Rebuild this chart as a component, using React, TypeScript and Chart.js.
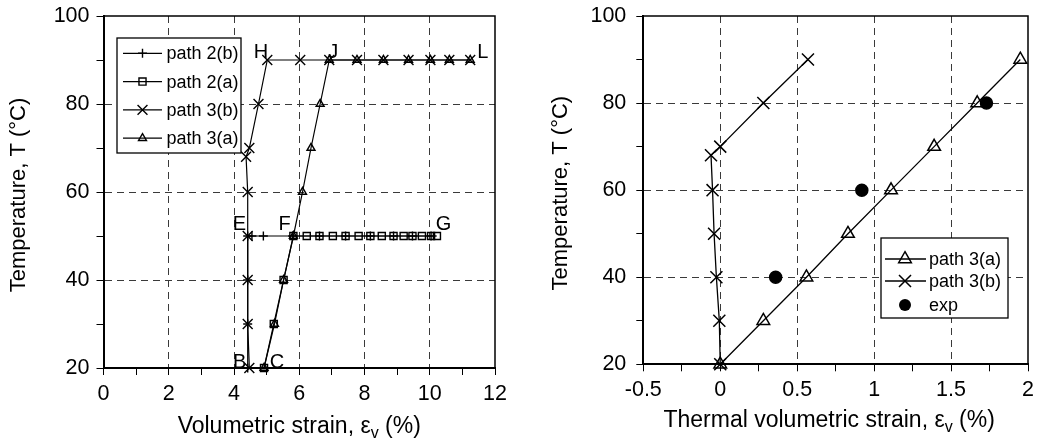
import React, { useEffect, useRef } from "react";
import { Chart, registerables } from "chart.js";
Chart.register(...registerables);

const FONT = "'Liberation Sans', Arial, Helvetica, sans-serif";

// ---------- Left panel data (volumetric strain %, temperature °C) ----------
const path2bX = [0, 4.42, 4.42, 4.42, 4.42, 4.55, 4.9, 5.8, 6.62, 7.42, 8.18, 8.89, 9.47, 10.04];
const path2bY = [20, 20, 30, 40, 50, 50, 50, 50, 50, 50, 50, 50, 50, 50];
const path2aX = [4.92, 5.22, 5.52, 5.82, 6.23, 6.62, 7.03, 7.42, 7.82, 8.18, 8.53, 8.89, 9.2, 9.47, 9.76, 10.04, 10.22];
const path2aY = [20, 30, 40, 50, 50, 50, 50, 50, 50, 50, 50, 50, 50, 50, 50, 50, 50];
const path3bX = [4.47, 4.42, 4.42, 4.42, 4.42, 4.37, 4.47, 4.75, 5.02, 6.03, 6.92, 7.77, 8.58, 9.35, 10.02, 10.6, 11.24];
const path3bY = [20, 30, 40, 50, 60, 68, 70, 80, 90, 90, 90, 90, 90, 90, 90, 90, 90];
const path3aX = [4.92, 5.24, 5.52, 5.82, 6.1, 6.36, 6.64, 6.92, 7.77, 8.58, 9.35, 10.02, 10.6, 11.24];
const path3aY = [20, 30, 40, 50, 60, 70, 80, 90, 90, 90, 90, 90, 90, 90];
const leftLetters = ["B", "C", "E", "F", "G", "H", "J", "L"];
const leftLetterX = [4.42, 4.92, 4.42, 5.82, 10.22, 5.02, 6.92, 11.24];
const leftLetterY = [20, 20, 50, 50, 50, 90, 90, 90];
const leftLabels = ["path 2(b)", "path 2(a)", "path 3(b)", "path 3(a)"];

// ---------- Right panel data (thermal volumetric strain %, temperature °C) ----------
const r3aX = [0, 0.28, 0.56, 0.83, 1.11, 1.39, 1.67, 1.95];
const r3aY = [20, 30, 40, 50, 60, 70, 80, 90];
const r3bX = [0, -0.006, -0.025, -0.04, -0.05, -0.06, 0, 0.28, 0.57];
const r3bY = [20, 30, 40, 50, 60, 68, 70, 80, 90];
const expX = [0.36, 0.92, 1.73];
const expY = [40, 60, 80];
const rightLabels = ["path 3(a)", "path 3(b)", "exp"];

const toPts = (xs: number[], ys: number[]) => xs.map((x, i) => ({ x, y: ys[i] }));

function isMajor(v: number, major: number) {
  const r = v / major;
  return Math.abs(r - Math.round(r)) < 1e-6;
}
const fmt = (v: number) => String(Math.round(v * 100) / 100);

function drawMarker(ctx: CanvasRenderingContext2D, style: string, x: number, y: number, r: number) {
  ctx.beginPath();
  if (style === "cross") {
    ctx.moveTo(x - r, y); ctx.lineTo(x + r, y); ctx.moveTo(x, y - r); ctx.lineTo(x, y + r); ctx.stroke();
  } else if (style === "crossRot") {
    const d = r * Math.SQRT1_2;
    ctx.moveTo(x - d, y - d); ctx.lineTo(x + d, y + d); ctx.moveTo(x - d, y + d); ctx.lineTo(x + d, y - d); ctx.stroke();
  } else if (style === "rect") {
    const s = r * Math.SQRT1_2;
    ctx.rect(x - s, y - s, 2 * s, 2 * s); ctx.stroke();
  } else if (style === "triangle") {
    ctx.moveTo(x, y - r); ctx.lineTo(x + r * 0.866, y + r * 0.5); ctx.lineTo(x - r * 0.866, y + r * 0.5); ctx.closePath(); ctx.stroke();
  } else if (style === "circle") {
    ctx.arc(x, y, r, 0, Math.PI * 2); ctx.fill();
  }
}

function ds(label: string, data: any[], style: string, radius: number | number[], lw: number, showLine = true, fill = false) {
  return {
    label, data, showLine, clip: false,
    borderColor: "#000", borderWidth: lw,
    pointStyle: style, pointRadius: radius, pointBorderWidth: lw + 0.2,
    pointBorderColor: "#000", pointBackgroundColor: fill ? "#000" : "rgba(0,0,0,0)",
    backgroundColor: fill ? "#000" : "rgba(0,0,0,0)",
    tension: 0,
  };
}

type PanelCfg = {
  datasets: any[];
  xMin: number; xMax: number; xStep: number; xMajor: number;
  yMin: number; yMax: number; yStep: number; yMajor: number;
  top: number; rightPad: number; yAxisW: number; xAxisH: number;
  yTickPad: number;
  xTitle: [string, string, string]; xTitleBase: number; xTitleShift: number;
  yTitle: string; yTitleX: number;
  legend: { x: number; y: number; w: number; h: number; rows: number[]; lx0: number; lx1: number; mx: number; tx: number };
  letters?: { t: string; x: number; y: number; dx: number; dy: number }[];
};

function axis(min: number, max: number, step: number, major: number, pad: number, fit: (s: any) => void) {
  return {
    type: "linear", min, max,
    afterFit: fit,
    ticks: {
      stepSize: step, autoSkip: false, maxRotation: 0, minRotation: 0, padding: pad,
      color: "#000", font: { family: FONT, size: 21.5 },
      callback: (v: number) => (isMajor(v, major) ? fmt(v) : ""),
    },
    grid: {
      color: (c: any) => {
        const v = c.tick ? c.tick.value : undefined;
        if (v === undefined) return "rgba(0,0,0,0)";
        if (!isMajor(v, major) || Math.abs(v - min) < 1e-9 || Math.abs(v - max) < 1e-9) return "rgba(0,0,0,0)";
        return "#3a3a3a";
      },
      lineWidth: 1, tickLength: 7, tickColor: "#000", tickWidth: 1,
    },
    border: { color: "#000", width: 2, dash: [7, 5] },
  };
}

function decor(p: PanelCfg) {
  return {
    id: "decor",
    afterDraw(chart: any) {
      const ctx: CanvasRenderingContext2D = chart.ctx;
      const a = chart.chartArea;
      const xs = chart.scales.x, ys = chart.scales.y;
      ctx.save();
      // frame (top, right)
      ctx.strokeStyle = "#000"; ctx.lineWidth = 1.5;
      ctx.beginPath(); ctx.moveTo(a.left, a.top); ctx.lineTo(a.right, a.top); ctx.lineTo(a.right, a.bottom); ctx.stroke();
      // point letters
      ctx.fillStyle = "#000"; ctx.font = `20px ${FONT}`; ctx.textAlign = "center"; ctx.textBaseline = "middle";
      (p.letters || []).forEach((l) => {
        ctx.fillText(l.t, xs.getPixelForValue(l.x) + l.dx, ys.getPixelForValue(l.y) + l.dy);
      });
      // legend
      const L = p.legend;
      const bx = a.left + L.x, by = a.top + L.y;
      ctx.fillStyle = "#fff"; ctx.fillRect(bx, by, L.w, L.h);
      ctx.strokeStyle = "#000"; ctx.lineWidth = 1.3; ctx.strokeRect(bx, by, L.w, L.h);
      chart.data.datasets.forEach((d: any, i: number) => {
        const yy = by + L.rows[i];
        ctx.strokeStyle = "#000"; ctx.fillStyle = "#000"; ctx.lineWidth = d.borderWidth;
        if (d.showLine) { ctx.beginPath(); ctx.moveTo(bx + L.lx0, yy); ctx.lineTo(bx + L.lx1, yy); ctx.stroke(); }
        const r = Array.isArray(d.pointRadius) ? d.pointRadius[d.pointRadius.length - 1] : d.pointRadius;
        ctx.lineWidth = d.pointBorderWidth;
        drawMarker(ctx, d.pointStyle, bx + L.mx, yy, r);
        ctx.font = `18px ${FONT}`; ctx.textAlign = "left"; ctx.textBaseline = "middle";
        ctx.fillText(d.label, bx + L.tx, yy + 1);
      });
      // x title with subscript
      ctx.fillStyle = "#000"; ctx.textBaseline = "alphabetic"; ctx.textAlign = "left";
      const big = `23px ${FONT}`, small = `16px ${FONT}`;
      ctx.font = big; const w1 = ctx.measureText(p.xTitle[0]).width; const w3 = ctx.measureText(p.xTitle[2]).width;
      ctx.font = small; const w2 = ctx.measureText(p.xTitle[1]).width;
      let tx = (a.left + a.right) / 2 + p.xTitleShift - (w1 + w2 + w3) / 2;
      ctx.font = big; ctx.fillText(p.xTitle[0], tx, p.xTitleBase); tx += w1;
      ctx.font = small; ctx.fillText(p.xTitle[1], tx, p.xTitleBase + 5); tx += w2;
      ctx.font = big; ctx.fillText(p.xTitle[2], tx, p.xTitleBase);
      // y title
      ctx.save();
      ctx.translate(p.yTitleX, (a.top + a.bottom) / 2 + 3);
      ctx.rotate(-Math.PI / 2);
      ctx.font = `22px ${FONT}`; ctx.textAlign = "center"; ctx.textBaseline = "alphabetic";
      ctx.fillText(p.yTitle, 0, 0);
      ctx.restore();
      ctx.restore();
    },
  };
}

function buildConfig(p: PanelCfg): any {
  return {
    type: "scatter",
    data: { datasets: p.datasets },
    options: {
      animation: false, responsive: false, maintainAspectRatio: false, devicePixelRatio: 1,
      layout: { padding: { left: 0, top: p.top, right: p.rightPad, bottom: 0 } },
      plugins: { legend: { display: false }, tooltip: { enabled: false } },
      scales: {
        x: axis(p.xMin, p.xMax, p.xStep, p.xMajor, 6, (s: any) => {
          s.height = p.xAxisH; s.paddingLeft = 0; s.paddingRight = 0;
        }),
        y: axis(p.yMin, p.yMax, p.yStep, p.yMajor, p.yTickPad, (s: any) => {
          s.width = p.yAxisW; s.paddingTop = 0; s.paddingBottom = 0;
        }),
      },
    },
    plugins: [decor(p)],
  };
}

function leftConfig(): PanelCfg {
  return {
    datasets: [
      ds(leftLabels[0], toPts(path2bX, path2bY), "cross", path2bX.map((_, i) => (i === 0 ? 0 : 4.5)), 1.2),
      ds(leftLabels[1], toPts(path2aX, path2aY), "rect", 5, 1.2),
      ds(leftLabels[2], toPts(path3bX, path3bY), "crossRot", 7, 1.2),
      ds(leftLabels[3], toPts(path3aX, path3aY), "triangle", 4.6, 1.2),
    ],
    xMin: 0, xMax: 12, xStep: 1, xMajor: 2,
    yMin: 20, yMax: 100, yStep: 10, yMajor: 20,
    top: 16, rightPad: 25, yAxisW: 103.5, xAxisH: 73, yTickPad: 7,
    xTitle: ["Volumetric strain, \u03b5", "v", " (%)"], xTitleBase: 433, xTitleShift: 0,
    yTitle: "Temperature, T (\u00b0C)", yTitleX: 25,
    legend: { x: 13.5, y: 22, w: 124, h: 115, rows: [15.3, 43.6, 71.9, 100.2], lx0: 6, lx1: 45, mx: 25.5, tx: 49.5 },
    letters: leftLetters.map((t, i) => ({
      t, x: leftLetterX[i], y: leftLetterY[i],
      dx: [-8, 13, -8.4, -8.7, 6.6, -6.4, 4, 12.7][i],
      dy: [-5.5, -5.5, -12, -12, -12, -8, -8, -8][i],
    })),
  };
}

function rightConfig(): PanelCfg {
  return {
    datasets: [
      ds(rightLabels[0], toPts(r3aX, r3aY), "triangle", 7.3, 1.3),
      ds(rightLabels[1], toPts(r3bX, r3bY), "crossRot", 8.5, 1.3),
      ds(rightLabels[2], toPts(expX, expY), "circle", 6, 1.3, false, true),
    ],
    xMin: -0.5, xMax: 2, xStep: 0.25, xMajor: 0.5,
    yMin: 20, yMax: 100, yStep: 10, yMajor: 20,
    top: 16, rightPad: 2.3, yAxisW: 123.3, xAxisH: 76.7, yTickPad: 10,
    xTitle: ["Thermal volumetric strain, \u03b5", "v", " (%)"], xTitleBase: 427, xTitleShift: -6.5,
    yTitle: "Temperature, T (\u00b0C)", yTitleX: 46.7,
    legend: { x: 237.7, y: 222, w: 127, h: 80, rows: [21, 43, 67], lx0: 4, lx1: 45, mx: 24, tx: 48 },
  };
}

function Panel({ left, width, make }: { left: number; width: number; make: () => PanelCfg }) {
  const ref = useRef<HTMLCanvasElement>(null);
  useEffect(() => {
    const chart = new Chart(ref.current as HTMLCanvasElement, buildConfig(make()));
    return () => chart.destroy();
  }, []);
  return (
    <canvas ref={ref} width={width} height={441}
      style={{ position: "absolute", left, top: 0, width, height: 441, display: "block" }} />
  );
}

export default function App() {
  return (
    <div style={{ position: "absolute", left: 0, top: 0, width: 1038, height: 441, background: "#fff", overflow: "hidden" }}>
      <Panel left={0} width={520} make={leftConfig} />
      <Panel left={520} width={518} make={rightConfig} />
    </div>
  );
}
